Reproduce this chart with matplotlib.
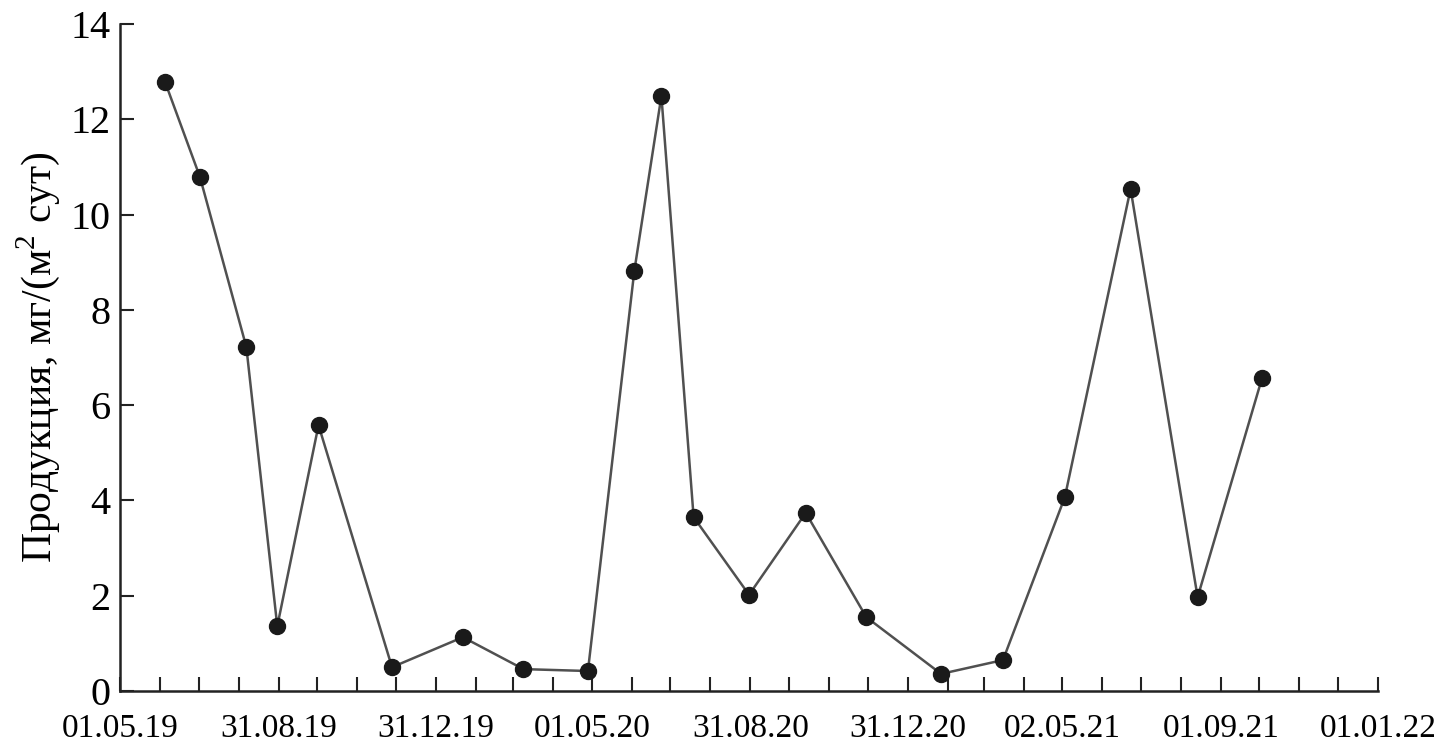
import matplotlib
matplotlib.use('Agg')
import matplotlib.pyplot as plt
import matplotlib.dates as mdates
from matplotlib.ticker import FixedLocator, FixedFormatter
import datetime as dt

plt.rcParams['font.family'] = ['Liberation Serif', 'DejaVu Serif']
plt.rcParams['mathtext.fontset'] = 'custom'
plt.rcParams['mathtext.rm'] = 'Liberation Serif'

# sampling dates and production values
dates = ['2019-06-05', '2019-07-02', '2019-08-07', '2019-08-31', '2019-10-02',
         '2019-11-28', '2020-01-22', '2020-03-09', '2020-04-28', '2020-06-03',
         '2020-06-24', '2020-07-19', '2020-08-31', '2020-10-14', '2020-11-30',
         '2021-01-27', '2021-03-16', '2021-05-03', '2021-06-23', '2021-08-14',
         '2021-10-03']
production = [12.78, 10.79, 7.22, 1.36, 5.58,
              0.50, 1.13, 0.46, 0.42, 8.82,
              12.49, 3.65, 2.02, 3.74, 1.55,
              0.36, 0.65, 4.07, 10.54, 1.97,
              6.57]

tick_dates = ['2019-05-01', '2019-09-01', '2020-01-01', '2020-05-01', '2020-09-01',
              '2021-01-01', '2021-05-01', '2021-09-01', '2022-01-01']
tick_labels = ['01.05.19', '31.08.19', '31.12.19', '01.05.20', '31.08.20',
               '31.12.20', '02.05.21', '01.09.21', '01.01.22']
y_ticks = [0, 2, 4, 6, 8, 10, 12, 14]

x = [dt.datetime.strptime(d, '%Y-%m-%d') for d in dates]
xt = [mdates.date2num(dt.datetime.strptime(d, '%Y-%m-%d')) for d in tick_dates]

fig = plt.figure(figsize=(14.34, 7.49), dpi=100)
ax = fig.add_axes([0.0837, 0.0774, 0.8773, 0.8905])

ax.plot(x, production, color='#505050', lw=1.8, marker='o', markersize=11.5,
        markerfacecolor='#1a1a1a', markeredgecolor='#1a1a1a', zorder=3)

ax.set_xlim(xt[0], xt[-1])
ax.set_ylim(0, 14)

ax.xaxis.set_major_locator(FixedLocator(xt))
ax.xaxis.set_major_formatter(FixedFormatter(tick_labels))
ax.xaxis.set_minor_locator(mdates.MonthLocator())
ax.set_yticks(y_ticks)
ax.set_yticklabels([str(v) for v in y_ticks])

for s in ['top', 'right']:
    ax.spines[s].set_visible(False)
for s in ['left', 'bottom']:
    ax.spines[s].set_linewidth(1.8)
    ax.spines[s].set_color('#222222')

ax.tick_params(axis='x', which='both', direction='in', length=10, width=1.5,
               color='#222222', labelsize=24, pad=16)
ax.tick_params(axis='y', which='major', direction='in', length=10, width=1.5,
               color='#222222', labelsize=29, pad=7)

ax.set_ylabel(r'Продукция, мг/(м$^2$ сут)', fontsize=30, labelpad=6)

fig.savefig('out.png', dpi=100)
